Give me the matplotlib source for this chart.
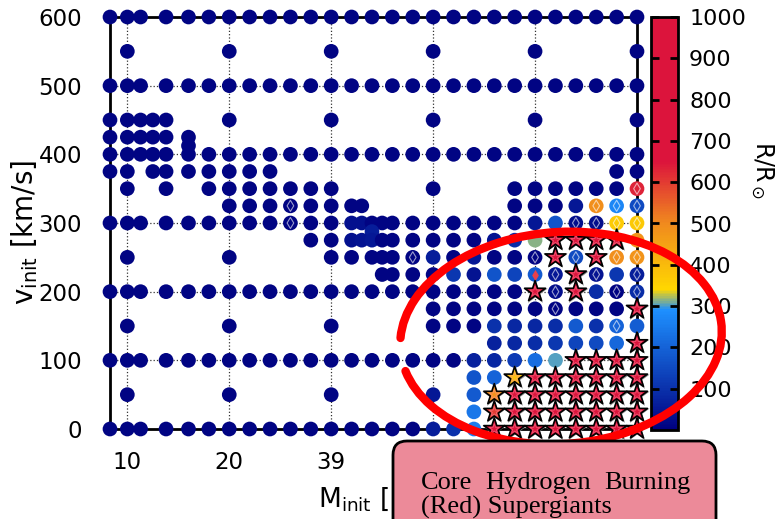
import matplotlib
matplotlib.use("Agg")
import matplotlib.pyplot as plt
import matplotlib.transforms as mtransforms
from matplotlib.colors import LinearSegmentedColormap
from matplotlib.patches import Arc, FancyBboxPatch

# mass columns (Msun)
m_left = [8.3, 10, 11.3, 13.8, 16, 18, 20, 22, 24, 26, 28]
m_right = [30, 32, 34, 36, 38, 40, 42, 44, 46, 48, 50, 52, 54, 56, 58, 60]

# circle models per initial velocity row (km/s)
v_rows = [600, 550, 500, 450, 425, 412.5, 400, 375, 350, 325, 300, 287.5,
          275, 250, 225, 200, 175, 150, 125, 100, 75, 50, 25, 0]
m_rows = [
    m_left + m_right,
    [10, 20, 30, 40, 50, 60],
    m_left + m_right,
    [8.3, 10, 11.3, 12.5, 13.8, 20, 30, 40, 50, 60],
    [8.3, 10, 11.3, 12.5, 13.8, 16],
    [16],
    [8.3, 10, 11.3, 12.5, 13.8, 16, 18, 20, 22, 24, 26, 28] + m_right,
    [8.3, 10, 12.5, 13.8, 16, 18, 20, 22, 24, 58, 60],
    [10, 13.8, 18, 20, 22, 24, 26, 28, 30, 40, 48, 50, 52, 54, 56, 58, 60],
    [20, 22, 24, 26, 28, 30, 32, 33, 48, 50, 52, 54, 56, 58, 60],
    m_left + [30, 32, 33, 34, 35, 36, 38, 40, 42, 44, 46, 48, 50, 52, 54, 56, 58, 60],
    [34],
    [28, 30, 32, 33, 34, 35, 36, 38, 40, 42, 44, 46, 48, 50, 60],
    [10, 20, 30, 32, 34, 35, 36, 38, 40, 42, 44, 46, 48, 50, 54, 58, 60],
    [35, 36, 38, 40, 42, 44, 46, 48, 50, 52, 56, 58, 60],
    m_left + [30, 32, 34, 36, 38, 40, 42, 44, 46, 48, 52, 56, 58, 60],
    [40, 42, 44, 46, 48, 50, 52, 54, 56, 58],
    [10, 20, 30, 40, 42, 44, 46, 48, 50, 52, 54, 56, 58, 60],
    [46, 48, 50, 52, 54, 56, 58],
    m_left + [30, 32, 34, 36, 38, 40, 42, 44, 46, 48, 50, 52],
    [44, 46],
    [10, 20, 30, 40, 44],
    [44],
    m_left + [30, 32, 34, 36, 38, 40, 42, 44],
]
r_default = 10

# circles whose radius differs from the default (R/Rsun)
hot_m = [60, 54, 56, 58, 60, 50, 52, 54, 56, 58, 60, 32, 33,
         32, 33, 34, 46, 48, 50, 60, 34,
         40, 44, 54, 58, 60,
         42, 44, 46, 48, 50, 52, 56, 58, 60,
         52, 56, 60,
         46, 48, 50, 52, 54, 56, 58, 60,
         46, 48, 50, 52, 54, 56, 58,
         44, 46, 48, 50, 52,
         44, 46, 40, 44, 44, 40, 42, 44]
hot_v = [350, 325, 325, 325, 325, 300, 300, 300, 300, 300, 300, 300, 300,
         275, 275, 275, 275, 275, 275, 275, 287.5,
         250, 250, 250, 250, 250,
         225, 225, 225, 225, 225, 225, 225, 225, 225,
         200, 200, 200,
         150, 150, 150, 150, 150, 150, 150, 150,
         125, 125, 125, 125, 125, 125, 125,
         100, 100, 100, 100, 100,
         75, 75, 50, 50, 25, 0, 0, 0]
hot_r = [630, 50, 490, 270, 150, 50, 170, 30, 30, 365, 370, 35, 35,
         35, 40, 50, 40, 90, 315, 480, 60,
         60, 50, 150, 490, 480,
         110, 40, 170, 140, 180, 50, 40, 110, 60,
         30, 90, 90,
         100, 80, 80, 90, 180, 100, 200, 190,
         70, 80, 90, 110, 140, 150, 210,
         70, 80, 120, 220, 302,
         170, 200, 50, 180, 240, 60, 100, 250]

# red supergiant models (stars)
star_m = [52, 54, 56, 58, 52, 56, 54, 50, 54, 60, 60, 54, 56, 58, 60,
          48, 50, 52, 54, 56, 58, 60,
          46, 48, 50, 52, 54, 56, 58, 60,
          46, 48, 50, 52, 54, 56, 58, 60,
          46, 48, 50, 52, 54, 56, 58, 60]
star_v = [275, 275, 275, 275, 250, 250, 225, 200, 200, 175, 125, 100, 100, 100, 100,
          75, 75, 75, 75, 75, 75, 75,
          50, 50, 50, 50, 50, 50, 50, 50,
          25, 25, 25, 25, 25, 25, 25, 25,
          0, 0, 0, 0, 0, 0, 0, 0]
star_r = [800, 800, 800, 800, 800, 800, 800, 800, 800, 800, 800, 800, 800, 800, 800,
          380, 800, 800, 800, 800, 800, 800,
          480, 800, 800, 800, 800, 800, 800, 800,
          600, 800, 800, 800, 800, 800, 800, 800,
          800, 800, 800, 800, 800, 800, 800, 800]

# open diamond flags and the one filled one
dia_m = [60, 26, 56, 58, 60, 26, 54, 56, 58, 60, 38, 50, 54, 58, 60, 52, 56, 60, 52, 58, 60, 52, 58]
dia_v = [350, 325, 325, 325, 325, 300, 300, 300, 300, 300, 250, 250, 250, 250, 250,
         225, 225, 225, 200, 200, 200, 175, 150]
fill_dia_m = [50]
fill_dia_v = [225]

x_ticks = [10, 20, 30, 40, 50]
x_labels = ["10", "20", "39", "40", "50"]
y_ticks = [0, 100, 200, 300, 400, 500, 600]
cb_ticks = [100, 200, 300, 400, 500, 600, 700, 800, 900, 1000]

cmap = LinearSegmentedColormap.from_list(
    "rsg", [(0.0, "#000080"), (0.29, "#1e90ff"), (0.34, "#ffd700"),
            (0.5, "#f08a1e"), (0.65, "#dc143c"), (1.0, "#dc143c")])

overrides = {(m, v): r for m, v, r in zip(hot_m, hot_v, hot_r)}
cm, cv, cr = [], [], []
for v, ms in zip(v_rows, m_rows):
    for m in ms:
        cm.append(m)
        cv.append(v)
        cr.append(overrides.get((m, v), r_default))

W, H = 781, 519
fig = plt.figure(figsize=(W / 100, H / 100), dpi=100)
ax = fig.add_axes([110 / W, 1 - 429 / H, 527 / W, 412 / H])
cax = fig.add_axes([651 / W, 1 - 430 / H, 27 / W, 413 / H])

ax.grid(True, linestyle=":", color="#333333", linewidth=0.9, zorder=0)
ax.set_axisbelow(True)

sc = ax.scatter(cm, cv, c=cr, s=112, cmap=cmap, vmin=0, vmax=1000,
                linewidths=0, zorder=3, clip_on=False)
ax.scatter(dia_m, dia_v, marker="d", s=32, facecolors="none",
           edgecolors=(1, 1, 1, 0.6), linewidths=0.8, zorder=4, clip_on=False)
ax.scatter(fill_dia_m, fill_dia_v, marker="d", s=32, c="#e8404a",
           linewidths=0, zorder=4, clip_on=False)

ax.scatter(star_m, star_v, marker="*", s=340, c="#8c8c8c", linewidths=0,
           zorder=5, clip_on=False)
ax.scatter(star_m, star_v, c=star_r, cmap=cmap, vmin=0, vmax=1000, marker="*",
           s=250, edgecolors="black", linewidths=1.2, zorder=6, clip_on=False)
ax.scatter(star_m, star_v, marker="*", s=60, facecolors="none",
           edgecolors=(1, 0.55, 0.62, 0.55), linewidths=0.6, zorder=7, clip_on=False)

ax.set_xlim(8.3, 60)
ax.set_ylim(0, 600)
ax.set_xticks(x_ticks)
ax.set_xticklabels(x_labels)
ax.set_yticks(y_ticks)
ax.tick_params(labelsize=16.5, direction="in", length=4, width=1.5)
ax.tick_params(axis="y", pad=20)
ax.tick_params(axis="x", pad=16)
for s in ax.spines.values():
    s.set_linewidth(2)

cb = fig.colorbar(sc, cax=cax)
cb.set_ticks(cb_ticks)
cb.outline.set_linewidth(2)
cax.tick_params(labelsize=16, direction="in", length=6, width=2,
                left=True, right=True, pad=8)

fig.text(25 / W, 1 - 232 / H, r"v$_{\rm init}$ [km/s]", rotation=90,
         ha="center", va="center", fontsize=20)
fig.text(318 / W, 1 - 507 / H, r"M$_{\rm init}$ [M$_\odot$]",
         ha="left", va="baseline", fontsize=19)
fig.text(762 / W, 1 - 170 / H, r"R/R$_\odot$", rotation=270,
         ha="center", va="center", fontsize=17)

ident = mtransforms.IdentityTransform()
ring = Arc((561, H - 338), 322, 212, angle=4, theta1=188, theta2=536,
           color="#ff0000", linewidth=6, transform=ident, zorder=10)
ring.set_capstyle("round")
fig.add_artist(ring)

box = FancyBboxPatch((393, -20), 323, H - 441 + 20,
                     boxstyle="round,pad=0,rounding_size=14",
                     facecolor="#ec8a99", edgecolor="black", linewidth=2,
                     transform=ident, zorder=11)
fig.add_artist(box)

# justified first line of the box text
serif = "Liberation Serif"
left, right = 421, 690
words = [fig.text(0, 1 - 489 / H, w, fontsize=19, family=serif,
                  ha="left", va="baseline", zorder=12)
         for w in ["Core", "Hydrogen", "Burning"]]
fig.canvas.draw()
rend = fig.canvas.get_renderer()
widths = [t.get_window_extent(rend).width for t in words]
gap = (right - left - sum(widths)) / 2
x = left
for t, wd in zip(words, widths):
    t.set_x(x / W)
    x += wd + gap
fig.text(left / W, 1 - 514 / H, "(Red) Supergiants", fontsize=19, family=serif,
         ha="left", va="baseline", zorder=12)

fig.savefig("out.png", dpi=100)
